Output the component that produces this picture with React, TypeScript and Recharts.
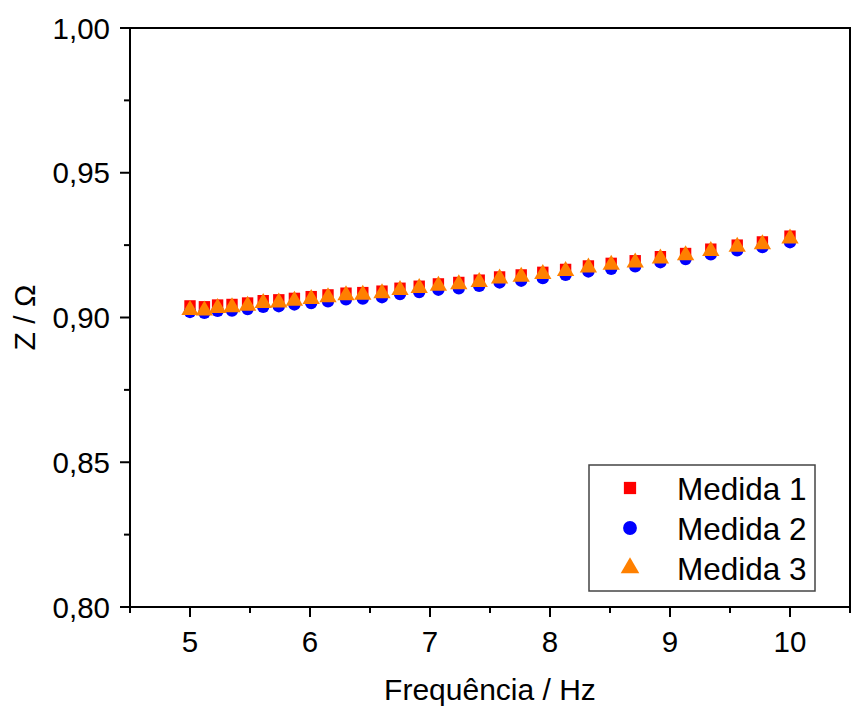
import { ScatterChart, Scatter, XAxis, YAxis, ReferenceArea, Legend, Symbols } from 'recharts';

const FONT = '"Liberation Sans", Arial, sans-serif';

const freq = [
  5.0, 5.12, 5.23, 5.35, 5.48, 5.61, 5.74, 5.87, 6.01, 6.15, 6.3, 6.44, 6.6, 6.75, 6.91, 7.07,
  7.24, 7.41, 7.58, 7.76, 7.94, 8.13, 8.32, 8.51, 8.71, 8.92, 9.13, 9.34, 9.56, 9.77, 10.0,
];

const medida1 = [
  0.904, 0.9037, 0.9043, 0.9045, 0.905, 0.9058, 0.9061, 0.9066, 0.9072, 0.9078, 0.9084, 0.9086,
  0.9091, 0.9101, 0.9108, 0.9116, 0.9121, 0.9129, 0.914, 0.9147, 0.9156, 0.9166, 0.9178, 0.9187,
  0.9196, 0.921, 0.9221, 0.9236, 0.925, 0.9261, 0.9281,
];

const medida2 = [
  0.9019, 0.9016, 0.9023, 0.9024, 0.9029, 0.9037, 0.9039, 0.9045, 0.905, 0.9056, 0.9063, 0.9065,
  0.907, 0.9081, 0.9088, 0.9096, 0.9101, 0.9109, 0.9121, 0.9127, 0.9136, 0.9147, 0.9159, 0.9168,
  0.9177, 0.9191, 0.9202, 0.9218, 0.9232, 0.9243, 0.926,
];

const medida3 = [
  0.9026, 0.9024, 0.9033, 0.9035, 0.9041, 0.905, 0.9052, 0.9058, 0.9064, 0.907, 0.9077, 0.9079,
  0.9084, 0.9095, 0.9102, 0.911, 0.9115, 0.9123, 0.9135, 0.9141, 0.915, 0.9161, 0.9173, 0.9182,
  0.919, 0.9204, 0.9215, 0.923, 0.9244, 0.9253, 0.9273,
];

const xTicks = [4.5, 5, 5.5, 6, 6.5, 7, 7.5, 8, 8.5, 9, 9.5, 10, 10.5];
const yTicks = [0.8, 0.825, 0.85, 0.875, 0.9, 0.925, 0.95, 0.975, 1.0];

const toPoints = (ys: number[]) => freq.map((f, i) => ({ f, z: ys[i] }));

const series = [
  { name: 'Medida 1', data: toPoints(medida1), color: '#FF0000', shape: 'square', size: 130 },
  { name: 'Medida 2', data: toPoints(medida2), color: '#0000FF', shape: 'circle', size: 120 },
  { name: 'Medida 3', data: toPoints(medida3), color: '#FF8000', shape: 'triangle', size: 130 },
];

const XTick = (props: any) => {
  const { x, y, payload } = props;
  const v = payload.value;
  const major = Number.isInteger(v);
  return (
    <g>
      <line x1={x} x2={x} y1={y} y2={y + (major ? 10 : 6)} stroke="#000" strokeWidth={2} />
      {major && (
        <text x={x} y={y + 45} textAnchor="middle" fontSize={29.5} fontFamily={FONT} fill="#000">
          {v}
        </text>
      )}
    </g>
  );
};

const YTick = (props: any) => {
  const { x, y, payload } = props;
  const v = payload.value;
  const major = Math.abs(v * 20 - Math.round(v * 20)) < 1e-6;
  return (
    <g>
      <line x1={x} x2={x - (major ? 10 : 6)} y1={y} y2={y} stroke="#000" strokeWidth={2} />
      {major && (
        <text x={x - 20} y={y + 10.5} textAnchor="end" fontSize={29.5} fontFamily={FONT} fill="#000">
          {v.toFixed(2).replace('.', ',')}
        </text>
      )}
    </g>
  );
};

const LegendBox = () => (
  <svg width={228} height={128} style={{ display: 'block' }}>
    <rect x={1} y={1} width={226} height={126} fill="#fff" stroke="#444" strokeWidth={1.5} />
    {series.map((s, i) => (
      <g key={s.name}>
        <Symbols cx={42} cy={24 + i * 40} type={s.shape as any} size={150} fill={s.color} />
        <text x={89} y={36 + i * 40} fontSize={31.5} fontFamily={FONT} fill="#000">
          {s.name}
        </text>
      </g>
    ))}
  </svg>
);

export default function App() {
  return (
    <div style={{ position: 'absolute', left: 0, top: 0, background: '#fff' }}>
      <ScatterChart width={851} height={707} margin={{ top: 28, right: 1, bottom: 0, left: 0 }}>
        <XAxis
          dataKey="f"
          type="number"
          domain={[4.5, 10.5]}
          ticks={xTicks}
          interval={0}
          height={100}
          axisLine={false}
          tickLine={false}
          tickSize={0}
          tickMargin={0}
          tick={<XTick />}
          allowDataOverflow
          label={() => (
            <text x={490} y={700} textAnchor="middle" fontSize={30} fontFamily={FONT} fill="#000">
              Frequência / Hz
            </text>
          )}
        />
        <YAxis
          dataKey="z"
          type="number"
          domain={[0.8, 1.0]}
          ticks={yTicks}
          interval={0}
          width={130}
          axisLine={false}
          tickLine={false}
          tickSize={0}
          tickMargin={0}
          tick={<YTick />}
          allowDataOverflow
          label={() => (
            <text
              x={35}
              y={317.5}
              transform="rotate(-90, 35, 317.5)"
              textAnchor="middle"
              fontSize={30}
              fontFamily={FONT}
              fill="#000"
            >
              Z / Ω
            </text>
          )}
        />
        <ReferenceArea x1={4.5} x2={10.5} y1={0.8} y2={1.0} fill="none" stroke="#000" strokeWidth={2} />
        {series.map((s) => (
          <Scatter
            key={s.name}
            name={s.name}
            data={s.data}
            fill={s.color}
            shape={(p: any) => (
              <Symbols cx={p.cx} cy={p.cy} type={s.shape as any} size={s.size} fill={s.color} />
            )}
            legendType={s.shape as any}
            isAnimationActive={false}
          />
        ))}
        <Legend
          layout="vertical"
          align="center"
          verticalAlign="middle"
          wrapperStyle={{ left: 588, top: 464, width: 228, height: 128 }}
          content={() => <LegendBox />}
        />
      </ScatterChart>
    </div>
  );
}
